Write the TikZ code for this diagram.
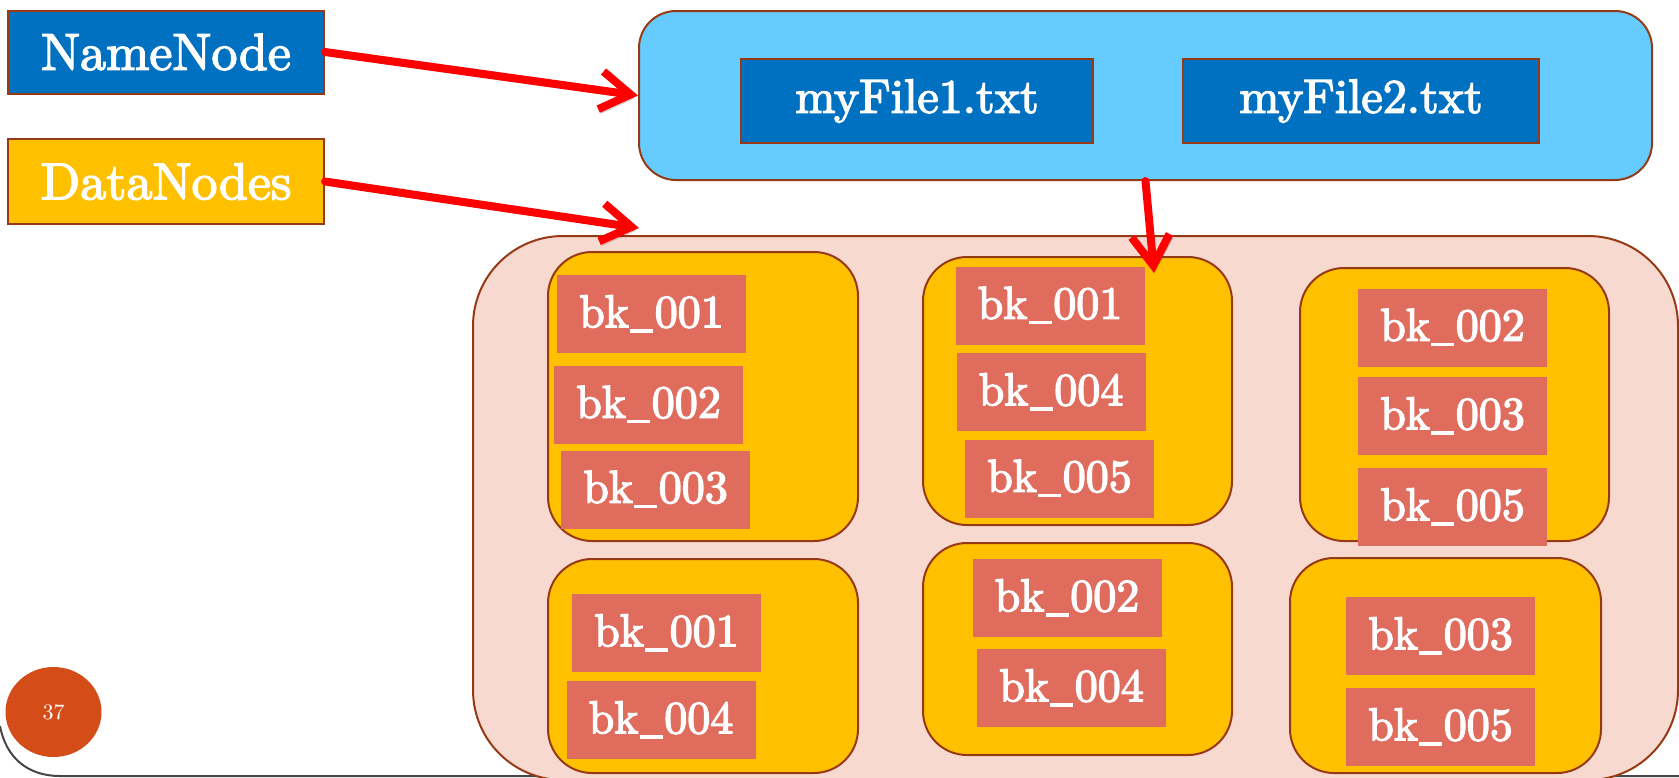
\documentclass[tikz,border=0pt]{standalone}
\usepackage{fontspec}
\setmainfont{lmroman10-regular.otf}
\usetikzlibrary{arrows.meta,shapes.geometric}

\definecolor{edgebrown}{RGB}{150,58,22}
\definecolor{nnblue}{RGB}{0,112,192}
\definecolor{metablue}{RGB}{102,204,255}
\definecolor{dnyellow}{RGB}{255,192,0}
\definecolor{clusterpink}{RGB}{248,217,207}
\definecolor{blockred}{RGB}{224,108,94}
\definecolor{linkred}{RGB}{255,0,0}
\definecolor{badgeorange}{RGB}{212,76,24}
\definecolor{frameline}{RGB}{70,70,70}

% short low underscore used in the block names
\newcommand\blkbar{\kern0.03em\rule[-0.12em]{0.5em}{0.08em}\kern0.03em}
% slightly heavier glyphs: fill and stroke the text outlines
\newcommand\heavyglyphs{\special{pdf:literal direct 2 Tr 0.7 w}}

\begin{document}
\begin{tikzpicture}[x=0.5pt,y=-0.5pt,
  labelbox/.style={draw=edgebrown, line width=1pt, text=white, inner sep=0pt,
    minimum width=158pt, font=\fontsize{26}{30}\selectfont\heavyglyphs},
  filebox/.style={draw=edgebrown, line width=1pt, fill=nnblue, text=white,
    inner sep=0pt, minimum height=42.25pt, font=\fontsize{24}{28}\selectfont\heavyglyphs},
  metabox/.style={draw=edgebrown, line width=1pt, fill=metablue,
    rounded corners=18.5pt, inner sep=0pt},
  clusterbox/.style={draw=edgebrown, line width=1pt, fill=clusterpink,
    rounded corners=45pt, inner sep=0pt},
  nodebox/.style={draw=edgebrown, line width=1pt, fill=dnyellow,
    rounded corners=22pt, inner sep=0pt},
  blk/.style={fill=blockred, text=white, inner sep=0pt,
    minimum width=94.5pt, minimum height=39pt,
    font=\fontsize{23}{28}\selectfont\heavyglyphs},
  link/.style={draw=linkred, line width=4pt, line cap=round, line join=round,
    -{Straight Barb[length=15pt,width=19pt]},
    preaction={draw=black, opacity=0.22,
      transform canvas={shift={(1.5pt,-2pt)}}}},
  badge/.style={ellipse, fill=badgeorange, text=white, inner sep=0pt,
    minimum width=48pt, minimum height=45pt, font=\fontsize{11}{13}\selectfont}
]
\useasboundingbox (0,0) rectangle (1679,777);

% slide frame: rounded lower-left corner and bottom edge
\draw[frameline, line width=1pt] (0,726) .. controls (6,758) and (28,776) .. (60,776) -- (1679,776);

% legend boxes
\node[labelbox, fill=nnblue, minimum height=41.5pt] (nn) at (166,52) {NameNode};
\node[labelbox, fill=dnyellow, minimum height=42.5pt] (dn) at (166,181.5) {DataNodes};

% metadata held by the NameNode
\node[metabox, minimum width=506.5pt, minimum height=84.5pt] (meta) at (1145.5,95.5) {};
\node[filebox, minimum width=176pt] (f1) at (917,101) {myFile1.txt};
\node[filebox, minimum width=178pt] (f2) at (1361,101) {myFile2.txt};

% cluster of DataNodes
\node[clusterbox, minimum width=602.5pt, minimum height=272pt] (cluster) at (1075.5,508) {};

\node[nodebox, minimum width=155pt, minimum height=144.5pt] (d1) at (703,396.5) {};
\node[nodebox, minimum width=154.5pt, minimum height=134pt] (d2) at (1077.5,391) {};
\node[nodebox, minimum width=154.5pt, minimum height=136.5pt] (d3) at (1454.5,404.5) {};
\node[nodebox, minimum width=155pt, minimum height=107pt] (d4) at (703,666) {};
\node[nodebox, minimum width=154.5pt, minimum height=106pt] (d5) at (1077.5,649) {};
\node[nodebox, minimum width=155.5pt, minimum height=107.5pt] (d6) at (1445.5,665.5) {};

% blocks stored on each DataNode
\node[blk] (d1a) at (651.5,314) {bk\blkbar001};
\node[blk] (d1b) at (648.5,404.5) {bk\blkbar002};
\node[blk] (d1c) at (655.5,489.5) {bk\blkbar003};

\node[blk] (d2a) at (1050,305.5) {bk\blkbar001};
\node[blk] (d2b) at (1051,392) {bk\blkbar004};
\node[blk] (d2c) at (1059.5,478.5) {bk\blkbar005};

\node[blk] (d3a) at (1452.5,327.5) {bk\blkbar002};
\node[blk] (d3b) at (1452.5,416) {bk\blkbar003};
\node[blk] (d3c) at (1452.5,507) {bk\blkbar005};

\node[blk] (d4a) at (666.5,633) {bk\blkbar001};
\node[blk] (d4b) at (661,720) {bk\blkbar004};

\node[blk] (d5a) at (1067,598) {bk\blkbar002};
\node[blk] (d5b) at (1071.5,688) {bk\blkbar004};

\node[blk] (d6a) at (1440.5,636) {bk\blkbar003};
\node[blk] (d6b) at (1440.5,727) {bk\blkbar005};

% connectors
\coordinate (clustertip) at (639,228);
\coordinate (d2tip) at (1154,273);
\draw[link] (nn.east) -- (meta.west);
\draw[link] (dn.east) -- (clustertip);
\draw[link] (meta.south) -- (d2tip);

% page number
\node[badge] (page) at (53.5,712) {37};
\end{tikzpicture}
\end{document}
